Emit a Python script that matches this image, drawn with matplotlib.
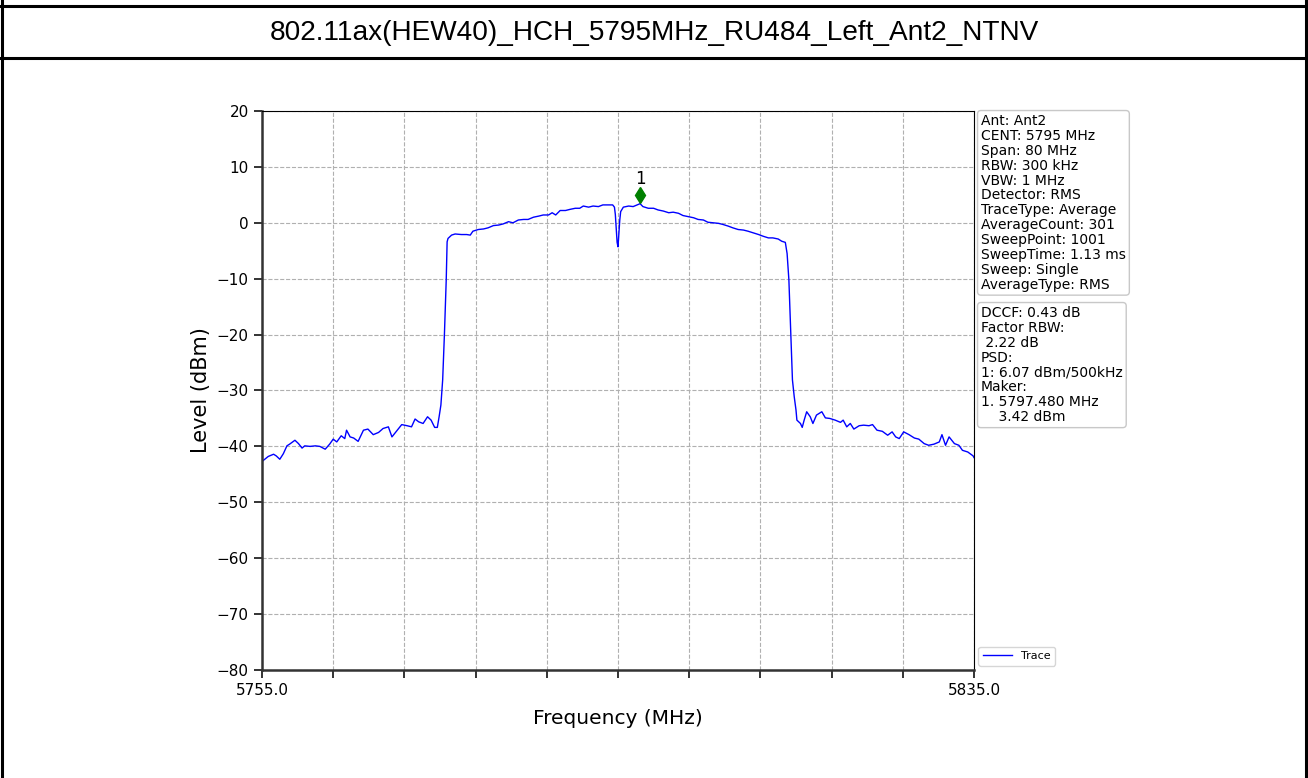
import matplotlib
matplotlib.use("Agg")
import matplotlib.pyplot as plt
from matplotlib.lines import Line2D

# Spectrum trace: frequency (MHz) and level (dBm)
freq_mhz = [
    5755.0, 5755.7, 5756.3, 5756.6, 5757.0, 5757.4, 5757.8, 5758.1, 5758.7, 5759.1,
    5759.5, 5759.8, 5760.4, 5761.0, 5761.5, 5762.1, 5762.6, 5763.0, 5763.4, 5763.9,
    5764.3, 5764.5, 5764.9, 5765.3, 5765.8, 5766.4, 5766.9, 5767.5, 5768.1, 5768.6,
    5769.2, 5769.6, 5770.1, 5770.7, 5771.3, 5771.8, 5772.2, 5772.6, 5773.1, 5773.6,
    5774.0, 5774.4, 5774.7, 5774.9, 5775.1, 5775.3, 5775.5, 5775.7, 5775.8, 5775.9,
    5776.3, 5776.7, 5777.4, 5778.0, 5778.4, 5778.7, 5779.3, 5779.9, 5780.4, 5781.0,
    5781.6, 5782.1, 5782.7, 5783.2, 5783.8, 5784.4, 5784.9, 5785.5, 5786.1, 5786.6,
    5787.2, 5787.6, 5788.0, 5788.5, 5789.1, 5789.6, 5790.2, 5790.7, 5791.1, 5791.7,
    5792.2, 5792.8, 5793.3, 5793.9, 5794.4, 5794.6, 5794.7, 5794.8, 5794.9, 5795.0,
    5795.1, 5795.2, 5795.3, 5795.6, 5796.2, 5796.7, 5797.48, 5797.8, 5798.4, 5799.0,
    5799.5, 5800.1, 5800.7, 5801.2, 5801.8, 5802.3, 5802.9, 5803.5, 5804.0, 5804.6,
    5805.1, 5805.7, 5806.3, 5806.8, 5807.4, 5807.9, 5808.5, 5809.1, 5809.6, 5810.2,
    5810.8, 5811.3, 5811.9, 5812.4, 5813.0, 5813.4, 5813.8, 5814.0, 5814.2, 5814.4,
    5814.6, 5814.8, 5815.0, 5815.1, 5815.5, 5815.7, 5815.9, 5816.2, 5816.6, 5816.9,
    5817.3, 5817.9, 5818.3, 5818.8, 5819.4, 5820.0, 5820.3, 5820.7, 5821.1, 5821.5,
    5822.1, 5822.6, 5823.2, 5823.6, 5824.1, 5824.7, 5825.3, 5825.8, 5826.2, 5826.6,
    5827.1, 5827.7, 5828.3, 5828.8, 5829.4, 5829.9, 5830.5, 5831.1, 5831.4, 5831.8,
    5832.2, 5832.8, 5833.3, 5833.7, 5834.3, 5834.9, 5835.0,
]
level_dbm = [
    -42.7, -41.8, -41.4, -41.7, -42.3, -41.3, -39.9, -39.6, -38.9, -39.5,
    -40.3, -39.9, -40.0, -39.9, -40.0, -40.5, -39.6, -38.7, -39.2, -38.1,
    -38.6, -37.1, -38.3, -38.5, -39.1, -37.1, -36.9, -37.9, -37.5, -36.8,
    -36.5, -38.3, -37.3, -36.1, -36.3, -36.5, -35.1, -35.6, -35.9, -34.7,
    -35.3, -36.6, -36.6, -34.7, -32.6, -28.1, -19.8, -10.2, -3.4, -2.8,
    -2.2, -2.0, -2.1, -2.1, -2.2, -1.5, -1.2, -1.1, -0.9, -0.5,
    -0.4, -0.2, 0.2, 0.0, 0.5, 0.6, 0.6, 1.0, 1.2, 1.4,
    1.4, 1.8, 1.4, 2.2, 2.2, 2.4, 2.6, 2.6, 3.0, 2.8,
    3.0, 2.9, 3.2, 3.2, 3.2, 2.8, 1.5, -1.0, -3.5, -4.3,
    -2.0, 0.5, 2.0, 2.8, 3.0, 2.9, 3.42, 2.9, 2.6, 2.6,
    2.3, 2.1, 1.8, 1.9, 1.7, 1.3, 1.1, 0.9, 0.6, 0.5,
    0.1, 0.0, -0.1, -0.3, -0.6, -0.9, -1.2, -1.3, -1.5, -1.8,
    -2.1, -2.4, -2.7, -2.7, -2.9, -3.3, -3.5, -5.5, -10.2, -19.2,
    -28.1, -31.1, -33.5, -35.3, -35.9, -36.6, -35.4, -33.8, -34.7, -35.9,
    -34.4, -33.8, -34.9, -35.0, -35.3, -35.7, -35.3, -36.5, -35.9, -36.9,
    -36.3, -36.2, -36.3, -36.1, -37.1, -37.3, -38.0, -37.4, -38.3, -38.6,
    -37.4, -37.9, -38.5, -38.7, -39.5, -39.8, -39.6, -39.2, -37.9, -39.8,
    -38.3, -39.5, -39.8, -40.7, -41.0, -41.7, -42.0,
]

# Marker 1
marker_freq = 5797.48
marker_level = 3.42
marker_offset_db = 1.5

title_text = "802.11ax(HEW40)_HCH_5795MHz_RU484_Left_Ant2_NTNV"
x_ticks = [5755.0 + 8.0 * i for i in range(11)]
x_tick_labels = ["5755.0"] + [""] * 9 + ["5835.0"]
y_ticks = list(range(-80, 21, 10))

settings_text = (
    "Ant: Ant2\nCENT: 5795 MHz\nSpan: 80 MHz\nRBW: 300 kHz\nVBW: 1 MHz\n"
    "Detector: RMS\nTraceType: Average\nAverageCount: 301\nSweepPoint: 1001\n"
    "SweepTime: 1.13 ms\nSweep: Single\nAverageType: RMS"
)
result_text = (
    "DCCF: 0.43 dB\nFactor RBW:\n 2.22 dB\nPSD:\n1: 6.07 dBm/500kHz\nMaker:\n"
    "1. 5797.480 MHz\n    3.42 dBm"
)

W, H = 1308, 778
fig = plt.figure(figsize=(W / 100, H / 100), dpi=100)
fig.patch.set_facecolor("white")

# Report frame: outer box and title row
def hline(y, x0=0.0, x1=1.0):
    fig.add_artist(Line2D([x0, x1], [1 - y / H, 1 - y / H], color="black", lw=2.2,
                          transform=fig.transFigure))

def vline(x, y0, y1):
    fig.add_artist(Line2D([x / W, x / W], [1 - y0 / H, 1 - y1 / H], color="black",
                          lw=2.2, transform=fig.transFigure))

hline(6)
hline(58)
vline(1.5, 0, H)
vline(W - 2, 0, H)

fig.text(0.5, 1 - 33 / H, title_text, ha="center", va="center",
         fontsize=20.2, family="Liberation Sans")

ax = fig.add_axes([262 / W, 1 - 670 / H, (974 - 262) / W, (670 - 111) / H])
ax.plot(freq_mhz, level_dbm, color="blue", lw=1.0, label="Trace")
ax.plot([marker_freq], [marker_level + marker_offset_db], marker="d", color="green",
        markersize=8, linestyle="none")
ax.text(marker_freq, marker_level + marker_offset_db + 1.3, "1", ha="center",
        va="bottom", fontsize=12)

ax.set_xlim(5755, 5835)
ax.set_ylim(-80, 20)
ax.set_xticks(x_ticks)
ax.set_xticklabels(x_tick_labels)
ax.set_yticks(y_ticks)
ax.tick_params(axis="both", labelsize=11, length=6, width=1.4, color="#333333")
ax.grid(True, linestyle="--", color="#b0b0b0", lw=0.8)
ax.set_xlabel("Frequency (MHz)", fontsize=14.5, labelpad=8)
ax.set_ylabel("Level (dBm)", fontsize=15, labelpad=4)
for s in ("left", "bottom"):
    ax.spines[s].set_linewidth(1.8)
    ax.spines[s].set_color("#333333")

box = dict(boxstyle="round,pad=0.25", facecolor="white", edgecolor="#c8c8c8", lw=1)
fig.text(981 / W, 1 - 114 / H, settings_text, ha="left", va="top", fontsize=10,
         linespacing=1.08, bbox=box)
fig.text(981 / W, 1 - 306 / H, result_text, ha="left", va="top", fontsize=10,
         linespacing=1.08, bbox=box)

ax.legend(loc="lower left", bbox_to_anchor=(1.0, 0.0), fontsize=8, frameon=True,
          borderaxespad=0.4, handlelength=2.6)

fig.savefig("out.png", dpi=100)
